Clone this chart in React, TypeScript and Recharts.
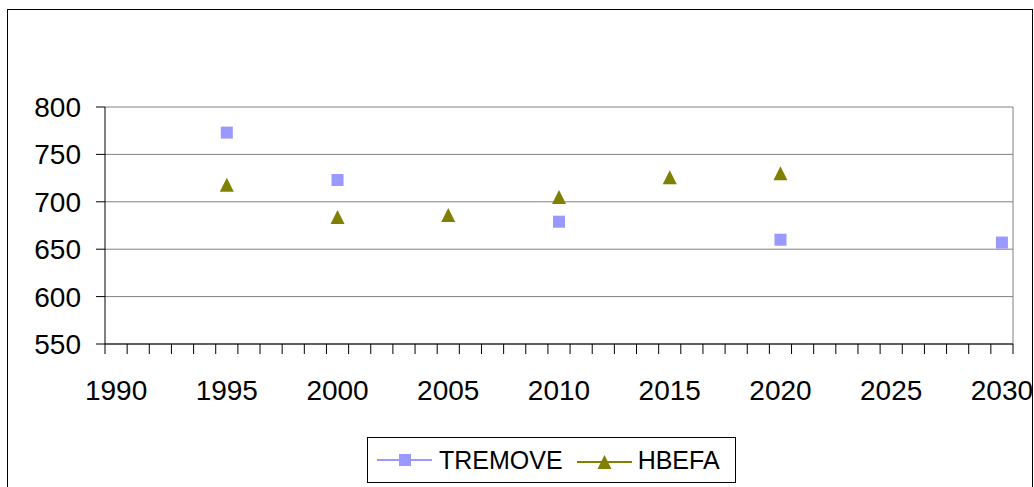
import React from 'react';
import { ScatterChart, Scatter, XAxis, YAxis, CartesianGrid, Legend, ReferenceLine } from 'recharts';

// x categories (years) and labels shown on the axis
const yearLabels = [1990, 1995, 2000, 2005, 2010, 2015, 2020, 2025, 2030];
const yMin = 550;
const yMax = 800;
const yTicks = [550, 600, 650, 700, 750, 800];

const tremoveYears = [1995, 2000, 2010, 2020, 2030];
const tremoveValues = [773, 723, 679, 660, 657];

const hbefaYears = [1995, 2000, 2005, 2010, 2015, 2020];
const hbefaValues = [718, 684, 686, 705, 726, 730];

const firstYear = yearLabels[0];
const lastYear = yearLabels[yearLabels.length - 1];
// tick marks sit between the yearly categories
const boundaryTicks: number[] = [];
for (let y = firstYear; y <= lastYear + 1; y++) boundaryTicks.push(y - 0.5);
const xDomain: [number, number] = [firstYear - 0.5, lastYear + 0.5];

const tremoveData = tremoveYears.map((year, i) => ({ year, value: tremoveValues[i] }));
const hbefaData = hbefaYears.map((year, i) => ({ year, value: hbefaValues[i] }));

const FONT = '"Liberation Sans", Arial, sans-serif';
const SQUARE = '#9999FF';
const OLIVE = '#808000';

const SquareShape = (props: any) => {
  const { cx, cy } = props;
  if (cx == null || cy == null) return null;
  return <rect x={cx - 6} y={cy - 6} width={12} height={12} fill={SQUARE} />;
};

const TriangleShape = (props: any) => {
  const { cx, cy } = props;
  if (cx == null || cy == null) return null;
  return <path d={`M${cx},${cy - 7} L${cx + 7},${cy + 7} L${cx - 7},${cy + 7} Z`} fill={OLIVE} />;
};

const XTick = (props: any) => {
  const { x, y, payload } = props;
  const v = payload.value as number;
  if (!Number.isInteger(v)) {
    return <line x1={x} y1={y} x2={x} y2={y + 10} stroke="#000" strokeWidth={1} />;
  }
  return (
    <text x={x} y={y + 56} textAnchor="middle" fontSize={28} fontFamily={FONT} fill="#000">
      {v}
    </text>
  );
};

const LegendBox = () => (
  <div
    style={{
      boxSizing: 'border-box',
      width: 369,
      height: 46,
      border: '1px solid #000',
      background: '#fff',
      display: 'flex',
      alignItems: 'center',
      paddingLeft: 9,
      fontFamily: FONT,
      fontSize: 25,
      color: '#000',
    }}
  >
    <svg width={55} height={20} style={{ marginRight: 7 }}>
      <line x1={0} y1={10} x2={55} y2={10} stroke={SQUARE} strokeWidth={2} />
      <rect x={22} y={4} width={12} height={12} fill={SQUARE} />
    </svg>
    <span style={{ marginRight: 14 }}>TREMOVE</span>
    <svg width={55} height={20} style={{ marginRight: 6 }}>
      <line x1={0} y1={12} x2={55} y2={12} stroke={OLIVE} strokeWidth={2} />
      <path d="M27.5,5 L34.5,19 L20.5,19 Z" fill={OLIVE} />
    </svg>
    <span>HBEFA</span>
  </div>
);

export default function App() {
  return (
    <div style={{ position: 'absolute', left: 0, top: 0, width: 1034, height: 487, overflow: 'hidden', background: '#fff' }}>
      <div
        style={{
          position: 'absolute',
          left: 7,
          top: 9,
          width: 1026,
          height: 600,
          boxSizing: 'border-box',
          border: '1px solid #000',
        }}
      />
      <div style={{ position: 'absolute', left: 0, top: 0 }}>
        <ScatterChart width={1034} height={487} margin={{ top: 107, right: 21, bottom: 83, left: 0 }}>
          <CartesianGrid horizontal vertical={false} stroke="#808080" />
          <XAxis
            type="number"
            dataKey="year"
            domain={xDomain}
            ticks={[...boundaryTicks, ...yearLabels]}
            interval={0}
            tick={<XTick />}
            tickLine={false}
            tickSize={0}
            tickMargin={0}
            height={60}
            axisLine={{ stroke: '#000' }}
          />
          <YAxis
            type="number"
            dataKey="value"
            domain={[yMin, yMax]}
            ticks={yTicks}
            interval={0}
            width={105}
            tickSize={9}
            tickMargin={15}
            tickLine={{ stroke: '#000' }}
            axisLine={{ stroke: '#000' }}
            tick={{ fontSize: 28, fontFamily: FONT, fill: '#000' }}
          />
          <ReferenceLine x={xDomain[1]} stroke="#808080" />
          <Legend
            layout="horizontal"
            verticalAlign="middle"
            align="center"
            content={<LegendBox />}
            wrapperStyle={{ position: 'absolute', left: 367, top: 437, width: 369, height: 46 }}
          />
          <Scatter name="TREMOVE" data={tremoveData} shape={<SquareShape />} isAnimationActive={false} />
          <Scatter name="HBEFA" data={hbefaData} shape={<TriangleShape />} isAnimationActive={false} />
        </ScatterChart>
      </div>
    </div>
  );
}
